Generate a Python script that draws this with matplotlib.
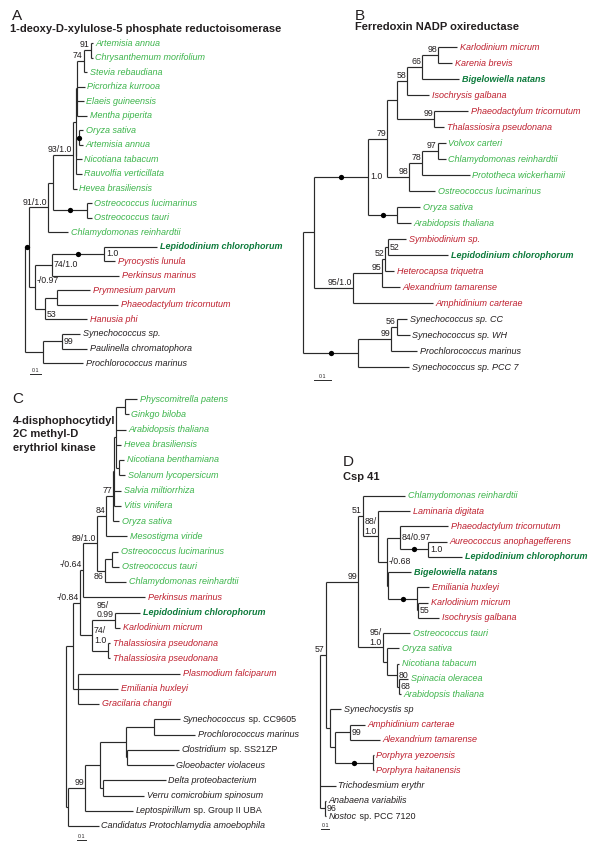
import matplotlib
matplotlib.use("Agg")
import matplotlib.pyplot as plt

plt.rcParams['font.family'] = ['Liberation Sans', 'DejaVu Sans']

W, H, DPI = 600, 848, 100

# ---------------- data: trees (Newick, branch lengths in substitutions/site) -------------
# internal labels: "<pos>~<support>" ; trailing '*' = dot on branch, '#' = dot on node, '|' = newline
TREE_A = """
(
 (
  (
   (
    (
     (
      (
       ((Artemisia annua:0.018,Chrysanthemum morifolium:0.018)a~91:0.064,Stevia rebaudiana:0.036)a~74:0.055,
       Picrorhiza kurrooa:0.064,Elaeis guineensis:0.055,Mentha piperita:0.091
      ):0.014,
      ((Oryza sativa:0.036,Artemisia annua:0.036)#:0.027,Nicotiana tabacum:0.05,Rauvolfia verticillata:0.05):0.005
     ):0.027,
     Hevea brasiliensis:0.036
    )a~93/1.0:0.182,
    (Ostreococcus lucimarinus:0.045,Ostreococcus tauri:0.045)*:0.309
   ):0.045,
   Chlamydomonas reinhardtii:0.182
  )a~91/1.0:0.173,
  (
   ((Lepidodinium chlorophorum:0.482,Pyrocystis lunula:0.1)r~1.0*:0.473,Perkinsus marinus:0.609)r~74/1.0:0.155,
   ((Prymnesium parvum:0.3,Phaeodactylum tricornutum:0.555):0.109,Hanusia phi:0.382)rb~53:0.091
  )ra~-/0.97:0.055
 )*:0.036,
 ((Synechococcus sp.:0.164,Paulinella chromatophora:0.227)r~99:0.173,Prochlorococcus marinus:0.364):0.164
);
"""

TREE_B = """
(
 (
  (
   (
    (
     (((Karlodinium micrum:0.112,Karenia brevis:0.082)a~98:0.094,Bigelowiella natans:0.218)a~66:0.088,Isochrysis galbana:0.129)a~58:0.059,
     (Phaeodactylum tricornutum:0.2,Thalassiosira pseudonana:0.059)a~99:0.218
    ):0.059,
    (((Volvox carteri:0.047,Chlamydomonas reinhardtii:0.047)a~97:0.094,Prototheca wickerhamii:0.282)a~78:0.076,Ostreococcus lucimarinus:0.153)a~98:0.129
   )a~79:0.112,
   (Oryza sativa:0.135,Arabidopsis thaliana:0.082)*:0.171
  )r~1.0*:0.318,
  (
   (((Symbiodinium sp.:0.106,Lepidodinium chlorophorum:0.353)r~52:0.018,Heterocapsa triquetra:0.053)a~52:0.018,Alexandrium tamarense:0.106)a~95:0.171,
   Amphidinium carterae:0.471
  )a~95/1.0:0.229
 ):0.065,
 (((Synechococcus sp. CC:0.059,Synechococcus sp. WH:0.076)a~56:0.035,Prochlorococcus marinus:0.153)a~99:0.194,Synechococcus sp. PCC 7:0.3)*:0.324
);
"""

TREE_C = """
(
 (
  (
   (
    (
     (
      (
       (
        ((Physcomitrella patens:0.133,Ginkgo biloba:0.044):0.1,Arabidopsis thaliana:0.111,Hevea brasiliensis:0.056,(Nicotiana benthamiana:0.056,Solanum lycopersicum:0.067):0.033):0.022,
        Salvia miltiorrhiza:0.078,Vitis vinifera:0.078
       ):0.011,
       Oryza sativa:0.067
      )a~77:0.078,
      Mesostigma viride:0.233
     )a~84:0.1,
     ((Ostreococcus lucimarinus:0.067,Ostreococcus tauri:0.078):0.078,Chlamydomonas reinhardtii:0.233)b~86:0.089
    )a~89/1.0:0.156,
    Perkinsus marinus:0.689
   )a~-/0.64:0.033,
   ((Lepidodinium chlorophorum:0.278,Karlodinium micrum:0.056)a~95/|0.99:0.256,(Thalassiosira pseudonana:0.022,Thalassiosira pseudonana:0.022):0.178)r~74/|1.0:0.133
  )a~-/0.84:0.078,
  (Plasmodium falciparum:1.133,Emiliania huxleyi:0.444,Gracilaria changii:0.233):0.056
 ):0.078,
 (
  (
   (
    (
     (Synechococcus sp. CC9605:0.289,Prochlorococcus marinus:0.456):0.311,
     (Clostridium sp. SS21ZP:0.578,Gloeobacter violaceus:0.522):0.011
    ):0.289,
    (Delta proteobacterium:0.7,Verru comicrobium spinosum:0.456):0.033
   ):0.167,
   Leptospirillum sp. Group II UBA:0.533
  )a~99:0.189,
  Candidatus Protochlamydia amoebophila:0.344
 ):0.022
);
"""

TREE_D = """
(
 (
  (
   (Chlamydomonas reinhardtii:0.525,
    (Laminaria digitata:0.4,
     ((Phaeodactylum tricornutum:0.6,(Aureococcus anophagefferens:0.238,Lepidodinium chlorophorum:0.425)r~1.0*:0.35)r~84/0.97:0.163,
      (Bigelowiella natans:0.288,(Emiliania huxleyi:0.15,(Karlodinium micrum:0.125,Isochrysis galbana:0.263)r~55:0.013)*:0.363):0.013
     )r~-/0.68:0.113
    )a~88/|1.0:0.188
   )a~51:0.063,
   (Ostreococcus tauri:0.338,(Oryza sativa:0.15,(Nicotiana tabacum:0.025,(Spinacia oleracea:0.113,Arabidopsis thaliana:0.025)r~68:0.025)r~80:0.125):0.05)a~95/|1.0:0.313
  )a~99:0.4,
  (Synechocystis sp:0.138,((Amphidinium carterae:0.188,Alexandrium tamarense:0.375)r~99:0.188,(Porphyra yezoensis:0.01,Porphyra haitanensis:0.01)*:0.475):0.063):0.05
 )a~57:0.075,
 Trichodesmium erythr:0.2,
 (Anabaena variabilis:0.013,Nostoc sp. PCC 7120:0.013)r~96:0.063
);
"""

PANEL_LETTERS = ['A', 'B', 'C', 'D']
PANEL_TITLES = ['1-deoxy-D-xylulose-5 phosphate reductoisomerase',
                'Ferredoxin NADP oxireductase',
                '4-disphophocytidyl\n2C methyl-D\nerythriol kinase',
                'Csp 41']
SCALE_LABEL = '0.1'
SCALE_LEN = 0.1

GREEN_TAXA = ['Artemisia annua', 'Chrysanthemum morifolium', 'Stevia rebaudiana', 'Picrorhiza kurrooa',
              'Elaeis guineensis', 'Mentha piperita', 'Oryza sativa', 'Nicotiana tabacum',
              'Rauvolfia verticillata', 'Hevea brasiliensis', 'Ostreococcus lucimarinus', 'Ostreococcus tauri',
              'Chlamydomonas reinhardtii', 'Volvox carteri', 'Prototheca wickerhamii', 'Arabidopsis thaliana',
              'Physcomitrella patens', 'Ginkgo biloba', 'Nicotiana benthamiana', 'Solanum lycopersicum',
              'Salvia miltiorrhiza', 'Vitis vinifera', 'Mesostigma viride', 'Spinacia oleracea']
RED_TAXA = ['Pyrocystis lunula', 'Perkinsus marinus', 'Prymnesium parvum', 'Phaeodactylum tricornutum',
            'Hanusia phi', 'Karlodinium micrum', 'Karenia brevis', 'Isochrysis galbana',
            'Thalassiosira pseudonana', 'Symbiodinium sp.', 'Heterocapsa triquetra', 'Alexandrium tamarense',
            'Amphidinium carterae', 'Plasmodium falciparum', 'Emiliania huxleyi', 'Gracilaria changii',
            'Laminaria digitata', 'Aureococcus anophagefferens', 'Porphyra yezoensis', 'Porphyra haitanensis']
BOLD_TAXA = ['Lepidodinium chlorophorum', 'Bigelowiella natans']
ROMAN_SUFFIX_TAXA = ['Synechococcus sp. CC9605', 'Clostridium sp. SS21ZP',
                     'Leptospirillum sp. Group II UBA', 'Nostoc sp. PCC 7120']

# ---------------- styles / layout ----------------
C_GREEN = '#3bb44a'
C_RED = '#be1e2d'
C_DARK = '#0c7a3b'
C_BLACK = '#231f20'
C_LINE = '#2a2a2a'
LEAF_FS = 6.5
SUP_FS = 6.3
TITLE_FS = 8.0
LETTER_FS = 11
LW = 0.85

# per panel: pixel box, root x pixel, pixels per unit, first leaf y pixel, leaf spacing, scale bar pos
PANELS = [
    dict(tree=TREE_A, box=(0, 33, 300, 392), root=25, ppu=110, y0=43, dy=14.55, bar=(30, 374)),
    dict(tree=TREE_B, box=(300, 33, 600, 392), root=303, ppu=170, y0=47, dy=16.0, bar=(314, 380)),
    dict(tree=TREE_C, box=(0, 390, 300, 848), root=66, ppu=90, y0=399, dy=15.25, bar=(77, 840)),
    dict(tree=TREE_D, box=(300, 482, 600, 848), root=320, ppu=80, y0=496, dy=15.24, bar=(321, 829)),
]
LETTER_POS = [(12, 9), (355, 9), (12, 392), (343, 455)]
TITLE_POS = [(10, 29), (355, 27), (13, 416), (343, 477)]


def parse_newick(text):
    text = text.replace('\n', ' ').strip()
    pos = 0

    def skip():
        nonlocal pos
        while pos < len(text) and text[pos] == ' ':
            pos += 1

    def read_token():
        nonlocal pos
        start = pos
        while pos < len(text) and text[pos] not in ',():;':
            pos += 1
        return text[start:pos].strip()

    def node():
        nonlocal pos
        skip()
        n = {'children': [], 'name': '', 'length': 0.0}
        if text[pos] == '(':
            pos += 1
            while True:
                n['children'].append(node())
                skip()
                if text[pos] == ',':
                    pos += 1
                    continue
                if text[pos] == ')':
                    pos += 1
                    break
        n['name'] = read_token()
        skip()
        if pos < len(text) and text[pos] == ':':
            pos += 1
            n['length'] = float(read_token())
        return n

    return node()


def layout(n, depth, leaves, root=False):
    n['x'] = depth + (0.0 if root else n['length'])
    if not n['children']:
        n['y'] = len(leaves)
        leaves.append(n)
    else:
        for c in n['children']:
            layout(c, n['x'], leaves)
        n['y'] = (n['children'][0]['y'] + n['children'][-1]['y']) / 2.0


def parse_label(s):
    flags = ''
    while s and s[-1] in '*#':
        flags += s[-1]
        s = s[:-1]
    pos, text = None, ''
    if '~' in s:
        pos, text = s.split('~', 1)
        text = text.replace('|', '\n')
    return pos, text, flags


LABEL_STYLE = {
    'a': dict(xytext=(-0.8, 0.6), ha='right', va='bottom'),
    'r': dict(xytext=(1.3, 0), ha='left', va='center'),
    'ra': dict(xytext=(1.3, 1.0), ha='left', va='bottom'),
    'rb': dict(xytext=(1.3, -1.0), ha='left', va='top'),
    'b': dict(xytext=(-0.8, -0.8), ha='right', va='top'),
}


def leaf_style(name):
    if name in BOLD_TAXA:
        return C_DARK, 'bold'
    if name in GREEN_TAXA:
        return C_GREEN, 'normal'
    if name in RED_TAXA:
        return C_RED, 'normal'
    return C_BLACK, 'normal'


def draw_tree(ax, n, parent=None):
    if parent is not None:
        ax.plot([parent['x'], n['x']], [n['y'], n['y']], color=C_LINE, lw=LW,
                solid_capstyle='butt', clip_on=False)
    if n['children']:
        ax.plot([n['x'], n['x']], [n['children'][0]['y'], n['children'][-1]['y']],
                color=C_LINE, lw=LW, solid_capstyle='butt', clip_on=False)
        pos, text, flags = parse_label(n['name'])
        if '*' in flags and parent is not None:
            ax.plot([(parent['x'] + n['x']) / 2], [n['y']], 'o', color='black', ms=3.8,
                    mec='none', clip_on=False, zorder=5)
        if '#' in flags:
            ax.plot([n['x']], [n['y']], 'o', color='black', ms=3.8, mec='none',
                    clip_on=False, zorder=5)
        if pos:
            st = LABEL_STYLE[pos]
            ax.annotate(text, xy=(n['x'], n['y']), textcoords='offset points',
                        fontsize=SUP_FS, color=C_BLACK, multialignment='left',
                        linespacing=1.05, **st)
        for c in n['children']:
            draw_tree(ax, c, n)
    else:
        name = n['name']
        color, weight = leaf_style(name)
        if name in ROMAN_SUFFIX_TAXA:
            first, rest = name.split(' ', 1)
            t1 = ax.annotate(first, xy=(n['x'], n['y']), xytext=(1.8, 0), textcoords='offset points',
                             ha='left', va='center', fontsize=LEAF_FS, style='italic',
                             color=color, fontweight=weight)
            ax.annotate(' ' + rest, xy=(1, 0.5), xycoords=t1, ha='left', va='center',
                        fontsize=LEAF_FS, color=color, fontweight=weight)
        else:
            ax.annotate(name, xy=(n['x'], n['y']), xytext=(1.8, 0), textcoords='offset points',
                        ha='left', va='center', fontsize=LEAF_FS, style='italic',
                        color=color, fontweight=weight)


fig = plt.figure(figsize=(W / DPI, H / DPI), dpi=DPI)
fig.patch.set_facecolor('white')

for p in PANELS:
    x0, y0, x1, y1 = p['box']
    ax = fig.add_axes([x0 / W, 1 - y1 / H, (x1 - x0) / W, (y1 - y0) / H])
    ax.set_xlim((x0 - p['root']) / p['ppu'], (x1 - p['root']) / p['ppu'])
    ax.set_ylim((y1 - p['y0']) / p['dy'], (y0 - p['y0']) / p['dy'])
    ax.axis('off')
    tree = parse_newick(p['tree'])
    leaves = []
    layout(tree, 0.0, leaves, root=True)
    draw_tree(ax, tree)
    # scale bar
    bx = (p['bar'][0] - p['root']) / p['ppu']
    by = (p['bar'][1] - p['y0']) / p['dy']
    ax.plot([bx, bx + SCALE_LEN], [by, by], color=C_LINE, lw=0.7, clip_on=False)
    ax.annotate(SCALE_LABEL, xy=(bx + SCALE_LEN / 2, by), xytext=(0, 0.6), textcoords='offset points',
                ha='center', va='bottom', fontsize=3.8, color=C_BLACK)

for (lx, ly), letter in zip(LETTER_POS, PANEL_LETTERS):
    fig.text(lx / W, 1 - ly / H, letter, ha='left', va='top', fontsize=LETTER_FS, color=C_BLACK)

for i, ((tx, ty), title) in enumerate(zip(TITLE_POS, PANEL_TITLES)):
    va = 'top' if '\n' in title else 'center'
    fig.text(tx / W, 1 - ty / H, title, ha='left', va=va, fontsize=TITLE_FS,
             fontweight='bold', color=C_BLACK, linespacing=1.42)

fig.savefig('out.png', dpi=DPI, facecolor='white')
